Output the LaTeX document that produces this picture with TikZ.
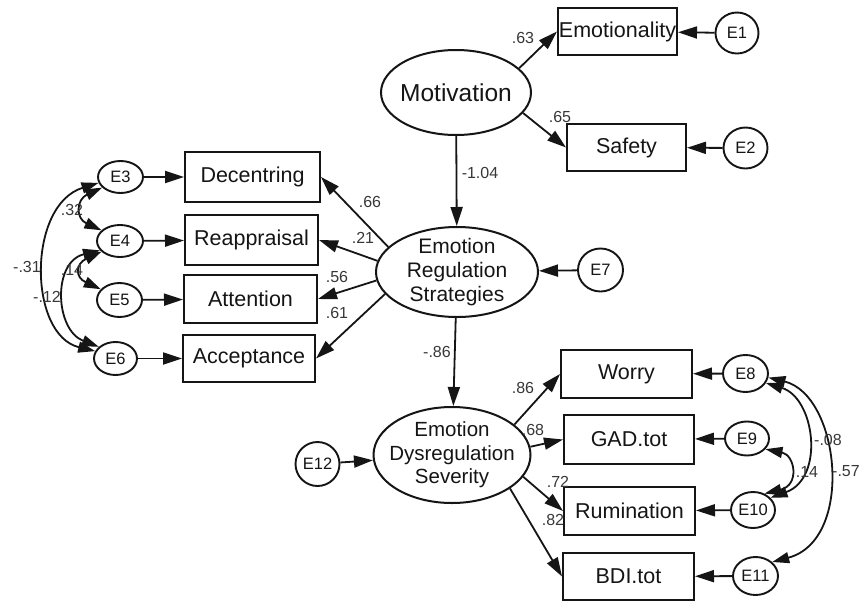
\documentclass[tikz,border=0pt]{standalone}
\usepackage{fontspec}
\setmainfont{Liberation Sans}
\usetikzlibrary{shapes.geometric,arrows.meta}
\definecolor{ink}{HTML}{151515}
\definecolor{labgray}{HTML}{383838}
\begin{document}
\begin{tikzpicture}[x=1pt,y=-1pt,
  box/.style={draw=ink, line width=2pt, rectangle, inner sep=0pt, font=\fontsize{21.5}{24}\selectfont, text=ink},
  lat/.style={draw=ink, line width=2pt, ellipse, inner sep=0pt},
  lattext/.style={align=center, font=\fontsize{21}{24}\selectfont, inner sep=0pt, text=ink},
  errl/.style={draw=ink, line width=1.9pt, ellipse, inner sep=0pt, font=\fontsize{16.5}{18}\selectfont, text=ink},
  coef/.style={inner sep=0pt, font=\fontsize{16}{17}\selectfont, text=labgray},
  regpath/.style={draw=ink, line width=1.8pt, -{Triangle[length=19pt,width=12pt]}},
  covpath/.style={draw=ink, line width=1.8pt, {Triangle[length=17pt,width=11pt]}-{Triangle[length=17pt,width=11pt]}},
]
\useasboundingbox[fill=white] (0,0) rectangle (860,603);

% latent variables
\node[lat, minimum width=150pt, minimum height=85pt] (mot) at (456,92.5) {};
\node[lattext, font=\fontsize{24.5}{26}\selectfont] (motT) at (mot) {Motivation};
\node[lat, minimum width=162pt, minimum height=90pt] (ers) at (457,272) {};
\node[lattext] (ersT) at (ers) {Emotion\\Regulation\\Strategies};
\node[lat, minimum width=157pt, minimum height=96pt] (eds) at (452,455) {};
\node[lattext, font=\fontsize{20.5}{23.5}\selectfont] (edsT) at (eds) {Emotion\\Dysregulation\\Severity};

% observed variables
\node[box, minimum width=119pt, minimum height=47pt] (emo) at (617.5,31.5) {Emotionality};
\node[box, minimum width=119pt, minimum height=47pt] (saf) at (626.5,147.5) {Safety};
\node[box, minimum width=135pt, minimum height=50pt] (dec) at (252.5,177) {Decentring};
\node[box, minimum width=133pt, minimum height=50pt] (rea) at (251.5,240) {Reappraisal};
\node[box, minimum width=133pt, minimum height=48pt] (att) at (250.5,299) {Attention};
\node[box, minimum width=132pt, minimum height=47pt] (acc) at (249,358.5) {Acceptance};
\node[box, minimum width=131pt, minimum height=48pt] (wor) at (626.5,374) {Worry};
\node[box, minimum width=130pt, minimum height=49pt] (gad) at (629,439.5) {GAD.tot};
\node[box, minimum width=131pt, minimum height=48pt] (rum) at (629.5,511) {Rumination};
\node[box, minimum width=131pt, minimum height=47pt] (bdi) at (628.5,576.5) {BDI.tot};

% error terms
\node[errl, minimum width=43pt, minimum height=41pt] (e1) at (737,33) {E1};
\node[errl, minimum width=44pt, minimum height=41pt] (e2) at (745.5,148) {E2};
\node[errl, minimum width=45pt, minimum height=32pt] (e3) at (120.5,177) {E3};
\node[errl, minimum width=46pt, minimum height=32pt] (e4) at (120,241) {E4};
\node[errl, minimum width=45pt, minimum height=34pt] (e5) at (119.5,300) {E5};
\node[errl, minimum width=43pt, minimum height=33pt] (e6) at (115.5,358.5) {E6};
\node[errl, minimum width=45pt, minimum height=43pt] (e7) at (600.5,270) {E7};
\node[errl, minimum width=45pt, minimum height=37pt] (e8) at (745.5,373.5) {E8};
\node[errl, minimum width=44pt, minimum height=34pt] (e9) at (747,438.5) {E9};
\node[errl, minimum width=44pt, minimum height=36pt] (e10) at (753,510) {E10};
\node[errl, minimum width=45pt, minimum height=38pt] (e11) at (755.5,576) {E11};
\node[errl, minimum width=44pt, minimum height=44pt] (e12) at (317.5,464) {E12};

% structural paths
\draw[regpath] (mot.21) -- (emo.west);
\draw[regpath] (mot.-17) -- (saf.west);
\draw[regpath] (mot) -- (ers);
\draw[regpath] (ers.160.6) -- (dec.east);
\draw[regpath] (ers.172.8) -- (rea.east);
\draw[regpath] (ers.186) -- (att.east);
\draw[regpath] (ers.197) -- (acc.east);
\draw[regpath] (ers) -- (eds);
\draw[regpath] (eds.26.6) -- (wor.west);
\draw[regpath] (eds.6) -- (gad.west);
\draw[regpath] (eds.-17) -- (rum.west);
\draw[regpath] (eds.-30.7) -- (bdi.west);

% error paths
\draw[regpath] (e1) -- (emo);
\draw[regpath] (e2) -- (saf);
\draw[regpath] (e3) -- (dec);
\draw[regpath] (e4) -- (rea);
\draw[regpath] (e5) -- (att);
\draw[regpath] (e6) -- (acc);
\draw[regpath] (e7) -- (ers);
\draw[regpath] (e8) -- (wor);
\draw[regpath] (e9) -- (gad);
\draw[regpath] (e10) -- (rum);
\draw[regpath] (e11) -- (bdi);
\draw[regpath] (e12) -- (eds);

% covariances
\draw[covpath] (e3.210) .. controls +(-26,12) and +(-26,-12) .. (e4.150);
\draw[covpath] (e4.210) .. controls +(-26,12) and +(-26,-12) .. (e5.150);
\draw[covpath] (e3.195) .. controls (27,205) and (28,335) .. (e6.160);
\draw[covpath] (e4.205) .. controls (52,262) and (55,330) .. (e6.145);
\draw[covpath] (e8.-25) .. controls (815,398) and (825,478) .. (e10.35);
\draw[covpath] (e9.-30) .. controls (795,455) and (800,485) .. (e10.55);
\draw[covpath] (e8.-10) .. controls (840,395) and (855,540) .. (e11.40);

% coefficients
\node[coef] (c63) at (523,38) {.63};
\node[coef] (c65) at (560,117) {.65};
\node[coef] (c104) at (480,173) {-1.04};
\node[coef] (c66) at (370,202) {.66};
\node[coef] (c21) at (363,238) {.21};
\node[coef] (c56) at (337,277) {.56};
\node[coef] (c61) at (337,313) {.61};
\node[coef] (c86a) at (437,352) {-.86};
\node[coef] (c86b) at (523,388) {.86};
\node[coef] (c68) at (533,430) {.68};
\node[coef] (c72) at (558,482) {.72};
\node[coef] (c82) at (553,520) {.82};
\node[coef] (c32) at (72,210) {.32};
\node[coef] (c31) at (27,267) {-.31};
\node[coef] (c14a) at (72,270) {.14};
\node[coef] (c12) at (47,297) {-.12};
\node[coef] (c08) at (828,440) {-.08};
\node[coef] (c14b) at (807,472) {.14};
\node[coef] (c57) at (846,471) {-.57};
\end{tikzpicture}
\end{document}
